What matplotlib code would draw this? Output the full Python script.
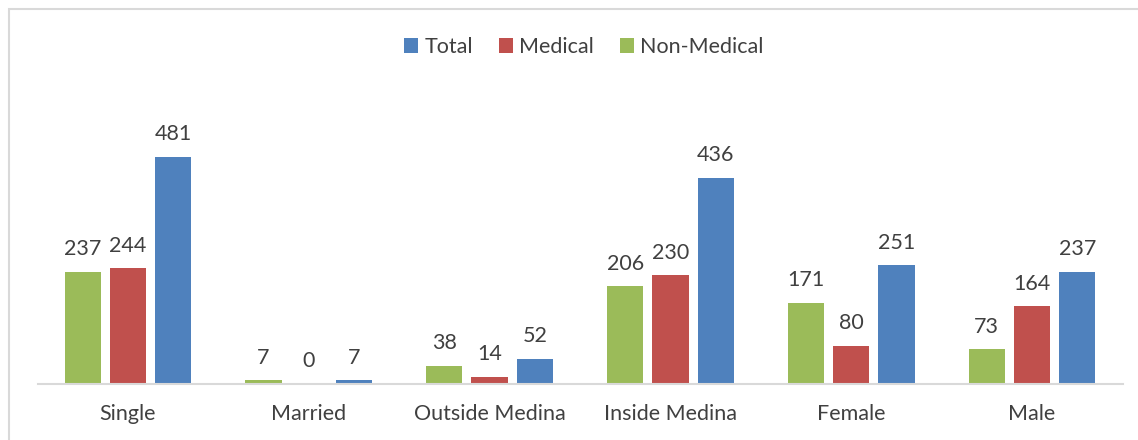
import matplotlib.pyplot as plt
import numpy as np
from matplotlib.patches import Rectangle

CATEGORIES = ["Single", "Married", "Outside Medina", "Inside Medina", "Female", "Male"]
NON_MEDICAL = [237, 7, 38, 206, 171, 73]
MEDICAL = [244, 0, 14, 230, 80, 164]
TOTAL = [481, 7, 52, 436, 251, 237]

GREEN = "#9BBB59"
RED = "#C0504D"
BLUE = "#4F81BD"
TEXT = "#404040"

plt.rcParams['font.family'] = ['Lato', 'DejaVu Sans']

fig = plt.figure(figsize=(11.38, 4.4), dpi=100)
W, H = 1138, 440
ax = fig.add_axes([37.5 / W, 56.5 / H, 1085 / W, 283 / H])

x = np.arange(len(CATEGORIES))
width = 0.2
step = 0.25
series = [(NON_MEDICAL, GREEN, "Non-Medical", -step),
          (MEDICAL, RED, "Medical", 0),
          (TOTAL, BLUE, "Total", step)]

bars = {}
for values, color, name, off in series:
    b = ax.bar(x + off, values, width, color=color, label=name, zorder=2)
    bars[name] = b
    for xi, v in zip(x + off, values):
        ax.annotate(str(v), (xi, v), xytext=(0, 9), textcoords="offset points",
                    ha="center", va="bottom", fontsize=15.5, color=TEXT)

ax.set_xlim(-0.5, len(CATEGORIES) - 0.5)
ax.set_ylim(0, 600)
ax.set_yticks([])
ax.set_xticks(x)
ax.set_xticklabels(CATEGORIES, fontsize=15.5, color=TEXT)
ax.tick_params(axis="x", length=0, pad=15)
for side in ["top", "right", "left"]:
    ax.spines[side].set_visible(False)
ax.spines["bottom"].set_color("#D9D9D9")
ax.spines["bottom"].set_linewidth(1.5)

handles = [bars["Total"], bars["Medical"], bars["Non-Medical"]]
fig.legend(handles, ["Total", "Medical", "Non-Medical"], loc="center",
           bbox_to_anchor=(584 / W, 1 - 47 / H), ncol=3, frameon=False,
           fontsize=15.5, labelcolor=TEXT, handlelength=0.65, handleheight=0.65,
           handletextpad=0.3, columnspacing=1.2)

fig.patches.append(Rectangle((9 / W, -0.1), 1.2, 1 - 9 / H + 0.1,
                             transform=fig.transFigure, fill=False,
                             edgecolor="#D9D9D9", linewidth=1.5))

fig.savefig("out.png", dpi=100)
